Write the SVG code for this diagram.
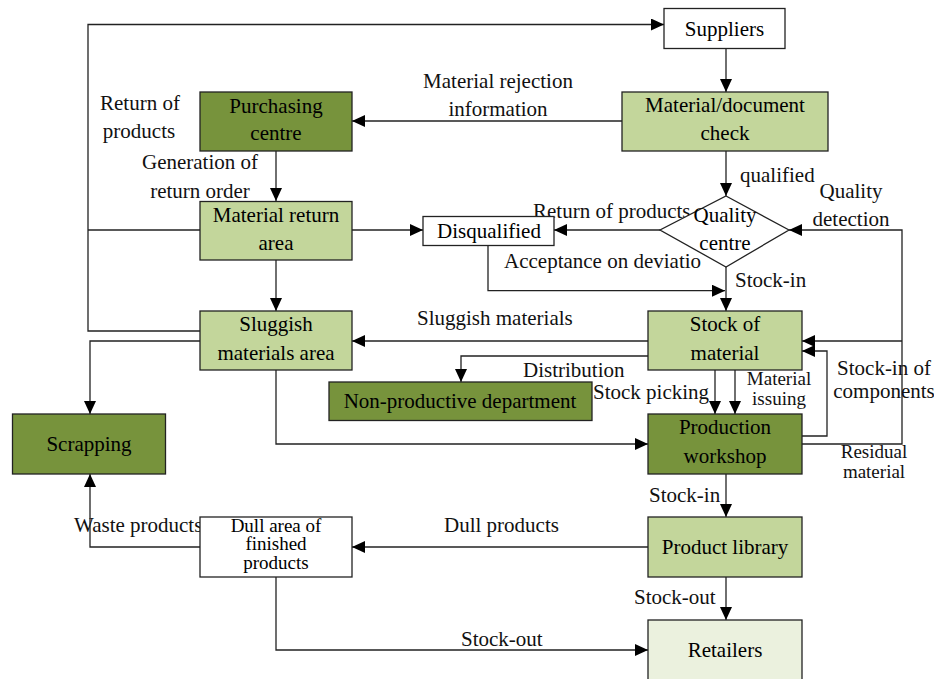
<svg xmlns="http://www.w3.org/2000/svg" width="934" height="679" viewBox="0 0 934 679" font-family="Liberation Serif, Times New Roman, DejaVu Serif, serif" font-size="21">
<defs>
<marker id="ah" viewBox="0 0 13 12" refX="13" refY="6" markerWidth="13" markerHeight="12" markerUnits="userSpaceOnUse" orient="auto">
<path d="M0,0 L13,6 L0,12 z" fill="#000"/>
</marker>
<style>
.c{text-anchor:middle;}
.box{stroke:#222;stroke-width:1.3;}
.dark{fill:#77933c;}
.light{fill:#c3d69b;}
.pale{fill:#ebf1de;}
.white{fill:#fff;}
.ln{fill:none;stroke:#222;stroke-width:1.3;}
.ar{marker-end:url(#ah);}
.sm{font-size:19px;}
</style>
</defs>
<rect width="934" height="679" fill="#fff"/>

<g id="connectors">
<path class="ln" d="M200 230 H88"/>
<path class="ln ar" d="M200 331 H88 V24.5 H664"/>
<path class="ln ar" d="M726 48 V92"/>
<path class="ln ar" d="M622 121 H352"/>
<path class="ln ar" d="M276 151 V201"/>
<path class="ln ar" d="M352 230 H423"/>
<path class="ln ar" d="M726 151 V196"/>
<path class="ln ar" d="M660 230 H554"/>
<path class="ln ar" d="M488 246 V290.7 H725"/>
<path class="ln ar" d="M726 267 V311"/>
<path class="ln ar" d="M802 444 H902 V230 H789"/>
<path class="ln ar" d="M902 341 H802"/>
<path class="ln ar" d="M802 436 H827 V351 H802"/>
<path class="ln ar" d="M648 341 H352"/>
<path class="ln ar" d="M648 356 H461 V382"/>
<path class="ln ar" d="M715 370 V414"/>
<path class="ln ar" d="M735 370 V414"/>
<path class="ln ar" d="M200 341 H90 V414"/>
<path class="ln ar" d="M276 370 V444 H648"/>
<path class="ln ar" d="M276 260 V311"/>
<path class="ln ar" d="M726 474 V517"/>
<path class="ln ar" d="M648 547 H352"/>
<path class="ln ar" d="M726 577 V620"/>
<path class="ln ar" d="M200 547 H90 V474"/>
<path class="ln ar" d="M276 577 V650 H648"/>
</g>

<g id="labels" fill="#111">
<text class="c" x="140" y="110">Return of</text>
<text class="c" x="139" y="138">products</text>
<text class="c" x="498" y="88">Material rejection</text>
<text class="c" x="498" y="116">information</text>
<text class="c" x="200" y="169">Generation of</text>
<text class="c" x="200" y="198">return order</text>
<text x="740" y="182">qualified</text>
<text class="c" x="851" y="198">Quality</text>
<text class="c" x="851" y="226">detection</text>
<text x="533" y="218">Return of products</text>
<text x="504" y="268">Acceptance on deviatio</text>
<text x="735" y="287">Stock-in</text>
<text x="417" y="325">Sluggish materials</text>
<text x="523" y="377">Distribution</text>
<text x="593" y="399">Stock picking</text>
<text class="c sm" x="779" y="385">Material</text>
<text class="c sm" x="779" y="405">issuing</text>
<text class="c" x="884" y="375">Stock-in of</text>
<text class="c" x="884" y="398">components</text>
<text class="c sm" x="874" y="458">Residual</text>
<text class="c sm" x="874" y="478">material</text>
<text x="649" y="502">Stock-in</text>
<text x="444" y="532">Dull products</text>
<text x="634" y="604">Stock-out</text>
<text x="461" y="646">Stock-out</text>
<text x="74" y="532">Waste products</text>
</g>

<g id="suppliers">
<rect class="box white" x="664" y="8.5" width="121" height="40"/>
<text class="c" x="724.5" y="36">Suppliers</text>
</g>
<g id="material-document-check">
<rect class="box light" x="622" y="92" width="206" height="59"/>
<text class="c" x="725" y="112">Material/document</text>
<text class="c" x="725" y="140">check</text>
</g>
<g id="purchasing-centre">
<rect class="box dark" x="200" y="92" width="152" height="59"/>
<text class="c" x="276" y="113">Purchasing</text>
<text class="c" x="276" y="140">centre</text>
</g>
<g id="material-return-area">
<rect class="box light" x="200" y="201.5" width="152" height="58.5"/>
<text class="c" x="276" y="222">Material return</text>
<text class="c" x="276" y="250">area</text>
</g>
<g id="disqualified">
<rect class="box white" x="423" y="216.5" width="131" height="29"/>
<text class="c" x="489" y="238">Disqualified</text>
</g>
<g id="quality-centre">
<polygon class="box white" points="726,196 789,230 726,267 660,230"/>
<text class="c" x="725" y="222">Quality</text>
<text class="c" x="725" y="250">centre</text>
</g>
<g id="sluggish-materials-area">
<rect class="box light" x="200" y="311" width="152" height="59"/>
<text class="c" x="276" y="331">Sluggish</text>
<text class="c" x="276" y="360">materials area</text>
</g>
<g id="stock-of-material">
<rect class="box light" x="648" y="311" width="154" height="59"/>
<text class="c" x="725" y="331">Stock of</text>
<text class="c" x="725" y="360">material</text>
</g>
<g id="non-productive-department">
<rect class="box dark" x="329" y="382" width="263" height="38.5"/>
<text class="c" x="460" y="408">Non-productive department</text>
</g>
<g id="scrapping">
<rect class="box dark" x="12.5" y="414" width="153" height="60"/>
<text class="c" x="89" y="451">Scrapping</text>
</g>
<g id="production-workshop">
<rect class="box dark" x="648" y="414" width="154" height="60"/>
<text class="c" x="725" y="434">Production</text>
<text class="c" x="725" y="463">workshop</text>
</g>
<g id="product-library">
<rect class="box light" x="648" y="517" width="154" height="60"/>
<text class="c" x="725" y="554">Product library</text>
</g>
<g id="dull-area">
<rect class="box white" x="200" y="517" width="152" height="60"/>
<text class="c sm" x="276" y="532">Dull area of</text>
<text class="c sm" x="276" y="550">finished</text>
<text class="c sm" x="276" y="569">products</text>
</g>
<g id="retailers">
<rect class="box pale" x="648" y="620" width="154" height="70"/>
<text class="c" x="725" y="657">Retailers</text>
</g>
</svg>
